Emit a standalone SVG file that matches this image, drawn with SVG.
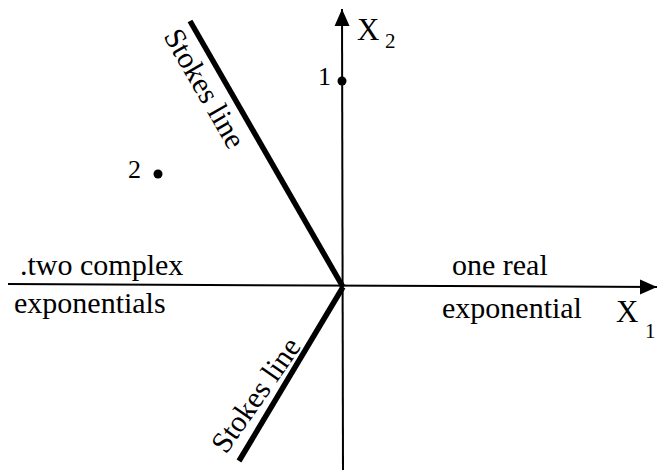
<svg xmlns="http://www.w3.org/2000/svg" width="659" height="470" viewBox="0 0 659 470">
<defs>
<marker id="arr" markerWidth="18" markerHeight="16" refX="17" refY="7.5" orient="auto" markerUnits="userSpaceOnUse" viewBox="0 0 18 15">
<path d="M0,0 L17,7.5 L0,15 Z" fill="#000"/>
</marker>
<style>
text{font-family:"Liberation Serif","Times New Roman",serif;fill:#000}
.lbl{font-size:30px}
.num{font-size:26px}
.ax{font-size:31px}
.sub{font-size:21px}
.axis{stroke:#000;stroke-width:2;fill:none}
.stokes{stroke:#000;stroke-width:5.5;fill:none}
</style>
</defs>
<rect width="659" height="470" fill="#fff"/>
<g id="connectors">
<line class="axis" x1="8" y1="284" x2="657" y2="287" marker-end="url(#arr)"/>
<line class="axis" x1="343" y1="470" x2="342" y2="9" marker-end="url(#arr)"/>
<line id="stokes-upper" class="stokes" x1="190" y1="21" x2="343" y2="287"/>
<line id="stokes-lower" class="stokes" x1="343" y1="287" x2="239" y2="461"/>
</g>
<g id="point1">
<circle cx="342" cy="81" r="4.5" fill="#000"/>
<text class="num" x="318" y="85">1</text>
</g>
<g id="point2">
<circle cx="158" cy="174" r="4.5" fill="#000"/>
<text class="num" x="128" y="178">2</text>
</g>
<g id="x2-label">
<text class="ax" x="357" y="40">X</text>
<text class="sub" x="385" y="48">2</text>
</g>
<g id="x1-label">
<text class="ax" x="616" y="322">X</text>
<text class="sub" x="645" y="338">1</text>
</g>
<g id="stokes-upper-label">
<text class="lbl" transform="translate(163,36) rotate(60)">Stokes line</text>
</g>
<g id="stokes-lower-label">
<text class="lbl" transform="translate(226,455) rotate(-55)">Stokes line</text>
</g>
<g id="left-region">
<text class="lbl" x="20" y="275">.two complex</text>
<text class="lbl" x="14" y="313">exponentials</text>
</g>
<g id="right-region">
<text class="lbl" x="452" y="275">one real</text>
<text class="lbl" x="442" y="318">exponential</text>
</g>
</svg>
